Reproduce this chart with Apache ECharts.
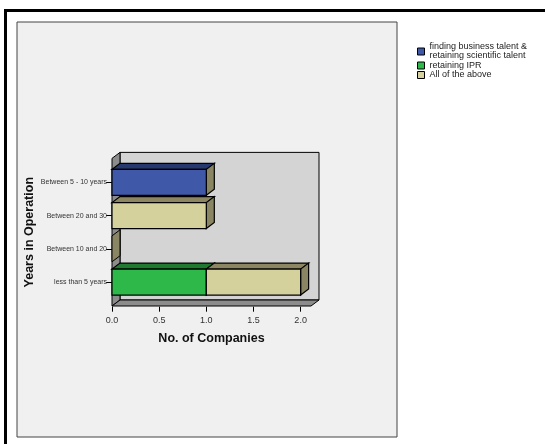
<!DOCTYPE html>
<html>
<head>
<meta charset="utf-8">
<script src="https://cdn.jsdelivr.net/npm/echarts@6/dist/echarts.min.js"></script>
<style>html,body{margin:0;padding:0;background:#fff;}#c{width:545px;height:444px;}</style>
</head>
<body>
<div id="c"></div>
<script>
// Categories, bottom to top
var categories = ['less than 5 years', 'Between 10 and 20', 'Between 20 and 30', 'Between 5 - 10 years'];
var seriesNames = ['finding business talent &\nretaining scientific talent', 'retaining IPR', 'All of the above'];
var talentValues = [0, 0, 0, 1];
var iprValues = [1, 0, 0, 0];
var allValues = [1, 0, 1, 0];
var xTicks = [0, 0.5, 1.0, 1.5, 2.0];
var xMax = 2.11;

var frontColors = ['#3f58a8', '#2fb84a', '#d5d19d'];
var topColors = ['#27386f', '#1f7a30', '#8c8663'];
var sideColors = ['#8a8562', '#8a8562', '#8a8562'];
var DX = 8, DY = -6;

var allSeriesValues = [talentValues, iprValues, allValues];
var cum = categories.map(function(){ return 0; });
var seriesData = allSeriesValues.map(function(vals){
  var d = [];
  vals.forEach(function(v, i){
    if (v > 0) { d.push([cum[i], cum[i] + v, i]); cum[i] += v; }
  });
  return d;
});
var totals = cum.slice();

function wallsRender(params, api) {
  var band = api.size([0, 1])[1];
  var pad = band * 0.22;
  var x0 = api.coord([0, 0])[0];
  var x1 = api.coord([xMax, 0])[0];
  var yBot = api.coord([0, 0])[1] + band / 2 + pad;
  var yTop = api.coord([0, categories.length - 1])[1] - band / 2 - pad;
  var st = { stroke: '#000', lineWidth: 1 };
  var children = [
    { type: 'rect', shape: { x: x0 + DX, y: yTop + DY, width: x1 - x0, height: yBot - yTop }, style: Object.assign({ fill: '#d4d4d4' }, st) },
    { type: 'polygon', shape: { points: [[x0, yTop], [x0 + DX, yTop + DY], [x0 + DX, yBot + DY], [x0, yBot]] }, style: Object.assign({ fill: '#8c8c8c' }, st) },
    { type: 'polygon', shape: { points: [[x0, yBot], [x1, yBot], [x1 + DX, yBot + DY], [x0 + DX, yBot + DY]] }, style: Object.assign({ fill: '#8c8c8c' }, st) }
  ];
  var h = band * 0.78;
  totals.forEach(function(t, i){
    if (t === 0) {
      var c = api.coord([0, i]);
      var yT = c[1] - h / 2, yB = c[1] + h / 2;
      children.push({ type: 'polygon', shape: { points: [[c[0], yT], [c[0] + DX, yT + DY], [c[0] + DX, yB + DY], [c[0], yB]] }, style: Object.assign({ fill: '#8a8562' }, st) });
    }
  });
  return { type: 'group', children: children };
}

function barRender(si) {
  return function(params, api) {
    var band = api.size([0, 1])[1];
    var h = band * 0.78;
    var p0 = api.coord([api.value(0), api.value(2)]);
    var p1 = api.coord([api.value(1), api.value(2)]);
    var yT = p0[1] - h / 2, yB = p0[1] + h / 2;
    var st = { stroke: '#000', lineWidth: 1.2 };
    return { type: 'group', children: [
      { type: 'polygon', shape: { points: [[p0[0], yT], [p1[0], yT], [p1[0] + DX, yT + DY], [p0[0] + DX, yT + DY]] }, style: Object.assign({ fill: topColors[si] }, st) },
      { type: 'polygon', shape: { points: [[p1[0], yT], [p1[0] + DX, yT + DY], [p1[0] + DX, yB + DY], [p1[0], yB]] }, style: Object.assign({ fill: sideColors[si] }, st) },
      { type: 'rect', shape: { x: p0[0], y: yT, width: p1[0] - p0[0], height: h }, style: Object.assign({ fill: frontColors[si] }, st) }
    ]};
  };
}

var chart = echarts.init(document.getElementById('c'), null, { renderer: 'canvas' });
var series = [{
  type: 'custom', name: '__walls', renderItem: wallsRender, data: [[0, 0]],
  encode: { x: 0, y: 1 }, silent: true, z: 1
}];
seriesNames.forEach(function(n, si){
  series.push({
    type: 'custom', name: n, renderItem: barRender(si), data: seriesData[si],
    encode: { x: [0, 1], y: 2 }, z: 2 + si,
    itemStyle: { color: frontColors[si], borderColor: '#000', borderWidth: 1 }
  });
});

chart.setOption({
  animation: false,
  backgroundColor: '#ffffff',
  textStyle: { fontFamily: 'Liberation Sans, Arial, sans-serif' },
  graphic: [
    { type: 'rect', z: -10, shape: { x: 5.5, y: 10.5, width: 700, height: 600 }, style: { fill: 'none', stroke: '#000', lineWidth: 3 } },
    { type: 'rect', z: -9, shape: { x: 17, y: 22, width: 380, height: 415 }, style: { fill: '#f0f0f0', stroke: '#444', lineWidth: 1 } }
  ],
  legend: {
    data: seriesNames, orient: 'vertical', left: 417, top: 42.5, padding: 0,
    itemWidth: 7, itemHeight: 7, itemGap: 0.5,
    icon: 'rect',
    itemStyle: { borderColor: '#000', borderWidth: 1 },
    textStyle: { fontSize: 9, lineHeight: 9, color: '#222', fontFamily: 'Liberation Sans, Arial, sans-serif' }
  },
  grid: { left: 112, right: 234, top: 165.7, bottom: 145.3 },
  xAxis: {
    type: 'value', min: 0, max: xMax, offset: 8,
    name: 'No. of Companies', nameLocation: 'middle', nameGap: 25,
    nameTextStyle: { fontSize: 12.5, fontWeight: 'bold', color: '#111' },
    axisLine: { show: false },
    axisTick: { show: true, length: 5, customValues: xTicks, lineStyle: { color: '#000' } },
    axisLabel: { customValues: xTicks, fontSize: 9, color: '#333', margin: 9, formatter: function(v){ return v.toFixed(1); } },
    splitLine: { show: false }
  },
  yAxis: {
    type: 'category', data: categories,
    name: 'Years in Operation', nameLocation: 'middle', nameGap: 76, nameRotate: 90,
    nameTextStyle: { fontSize: 12.5, fontWeight: 'bold', color: '#111' },
    axisLine: { show: false },
    axisTick: { show: true, alignWithLabel: true, length: 6, lineStyle: { color: '#000' } },
    axisLabel: { fontSize: 7, color: '#333', margin: 5 },
    splitLine: { show: false }
  },
  series: series
});
</script>
</body>
</html>
